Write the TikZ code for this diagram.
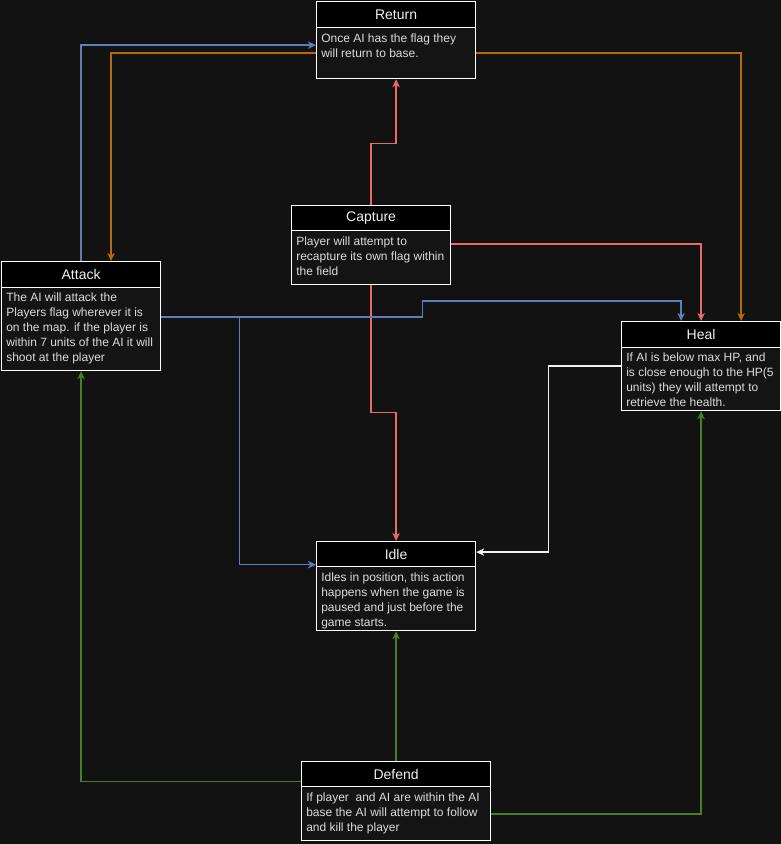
\documentclass[tikz,border=0pt]{standalone}
\usepackage{fontspec}
\setmainfont{Liberation Sans}
\usetikzlibrary{arrows.meta,calc}

\definecolor{bgcol}{RGB}{18,18,18}
\definecolor{bodycol}{RGB}{20,20,20}
\definecolor{titlecol}{RGB}{240,240,240}
\definecolor{textcol}{RGB}{220,220,220}
\definecolor{edgeblue}{RGB}{96,127,186}
\definecolor{edgeorange}{RGB}{185,106,4}
\definecolor{edgered}{RGB}{234,107,102}
\definecolor{edgegreen}{RGB}{72,126,38}
\definecolor{edgewhite}{RGB}{240,240,240}

\tikzset{
  hdr/.style={draw=white, line width=0.9pt, fill=black, anchor=north west,
    inner sep=0pt, text=titlecol, font=\fontsize{10.5}{12}\selectfont},
  bodybox/.style={draw=white, line width=0.9pt, fill=bodycol, anchor=north west,
    inner sep=0pt},
  bodytext/.style={anchor=north west, inner sep=0pt, align=left, text=textcol,
    font=\fontsize{9}{11.25}\selectfont},
  conn/.style={line width=1.1pt, -{Stealth[length=6pt,width=5.5pt,inset=1.8pt]}},
  blu/.style={conn, draw=edgeblue},
  org/.style={conn, draw=edgeorange},
  redl/.style={conn, draw=edgered},
  grn/.style={conn, draw=edgegreen},
  wht/.style={conn, draw=edgewhite},
}

\begin{document}
\begin{tikzpicture}[x=0.75pt,y=-0.75pt]
  \fill[bgcol] (0,0) rectangle (781,844);
  \useasboundingbox (0,0) rectangle (781,844);

  % Return state
  \node[hdr, minimum width=119.25pt, minimum height=19.5pt] (returnH) at (316,1) {Return};
  \node[bodybox, minimum width=119.25pt, minimum height=38.25pt] (returnB) at (316,27) {};
  \node[bodytext] (returnT) at (321,34) {Once AI has the flag they\\will return to base.};

  % Capture state
  \node[hdr, minimum width=119.25pt, minimum height=18.75pt] (captureH) at (291,205) {Capture};
  \node[bodybox, minimum width=119.25pt, minimum height=40.5pt] (captureB) at (291,230) {};
  \node[bodytext] (captureT) at (296,237) {Player will attempt to\\recapture its own flag within\\the field};

  % Attack state
  \node[hdr, minimum width=119.25pt, minimum height=19.5pt] (attackH) at (1,261) {Attack};
  \node[bodybox, minimum width=119.25pt, minimum height=62.25pt] (attackB) at (1,287) {};
  \node[bodytext] (attackT) at (6,293) {The AI will attack the\\Players flag wherever it is\\on the map. if the player is\\within 7 units of the AI it will\\shoot at the player};

  % Heal state
  \node[hdr, minimum width=119.25pt, minimum height=19.5pt] (healH) at (621,321) {Heal};
  \node[bodybox, minimum width=119.25pt, minimum height=47.25pt] (healB) at (621,347) {};
  \node[bodytext] (healT) at (626,353) {If AI is below max HP, and\\is close enough to the HP(5\\units) they will attempt to\\retrieve the health.};

  % Idle state
  \node[hdr, minimum width=119.25pt, minimum height=18.75pt] (idleH) at (316,541) {Idle};
  \node[bodybox, minimum width=119.25pt, minimum height=48pt] (idleB) at (316,566) {};
  \node[bodytext] (idleT) at (321,573) {Idles in position, this action\\happens when the game is\\paused and just before the\\game starts.};

  % Defend state
  \node[hdr, minimum width=141.75pt, minimum height=18.75pt] (defendH) at (301,761) {Defend};
  \node[bodybox, minimum width=141.75pt, minimum height=40.5pt] (defendB) at (301,786) {};
  \node[bodytext] (defendT) at (306,793) {If player\ \ and AI are within the AI\\base the AI will attempt to follow\\and kill the player};

  % Transitions (offsets keep every segment on a pixel centre)
  \draw[blu] (attackH.north) |- ($(returnB.west)+(0,-8)$);
  \draw[org] (returnB.west) -| ($(attackH.north)+(30,0)$);
  \draw[org] (returnB.east) -| ($(healH.north)+(40,0)$);
  \draw[redl] (captureH.north) -- ++(0,-61.5) -| (returnB.south);
  \draw[redl] ($(captureB.east)+(0,-13.5)$) -| (healH.north);
  \draw[redl] (captureB.south) -- ++(0,127.5) -| (idleH.north);
  \draw[blu] ($(attackB.east)+(0,-12)$) -- ++(261.5,0) -- ++(0,-16) -| ($(healH.north)+(-20,0)$);
  \draw[blu] ($(attackB.east)+(0,-12)$) -- ++(78.5,0) |- ($(idleH.south west)+(0,-2.5)$);
  \draw[wht] ($(healB.west)+(0,-13)$) -- ++(-72.5,0) |- ($(idleH.east)+(0,-2)$);
  \draw[grn] (defendH.north) -- (idleB.south);
  \draw[grn] ($(defendH.south west)+(0,-5.5)$) -| (attackB.south);
  \draw[grn] ($(defendB.east)+(0,0.5)$) -| (healB.south);
\end{tikzpicture}
\end{document}
